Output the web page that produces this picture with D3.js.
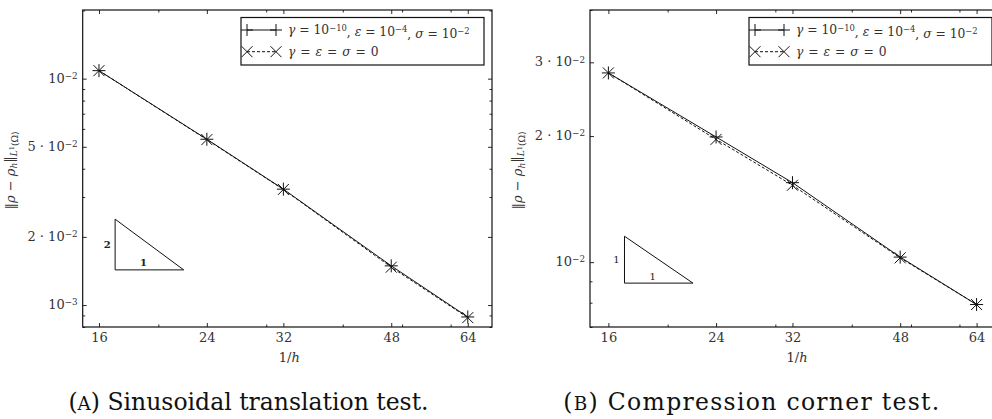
<!DOCTYPE html>
<html>
<head>
<meta charset="utf-8">
<script src="https://cdn.jsdelivr.net/npm/d3@7"></script>
<style>
  body { margin: 0; background: #fff; }
  svg { display: block; }
</style>
</head>
<body>
<div id="chart"></div>
<script>
// mesh sizes 1/h
var hValues = [16, 24, 32, 48, 64];

// (A) sinusoidal translation: L1 error
var sinRegularized = [1.085e-2, 5.40e-3, 3.25e-3, 1.49e-3, 8.86e-4];
var sinPlain       = [1.085e-2, 5.38e-3, 3.24e-3, 1.47e-3, 8.80e-4];

// (B) compression corner: L1 error
var cornerRegularized = [2.83e-2, 1.99e-2, 1.548e-2, 1.028e-2, 7.92e-3];
var cornerPlain       = [2.83e-2, 1.964e-2, 1.526e-2, 1.024e-2, 7.92e-3];

var xTickValues = [16, 24, 32, 48, 64];
var xMinorValues = [20, 30, 40, 50, 60];

// tick labels as printed in the figure: [prefix, base, exponent]
var sinYTicks = [1e-2, 5e-3, 2e-3, 1e-3];
var sinYLabels = [["", "10", "−2"], ["5 · ", "10", "−2"], ["2 · ", "10", "−2"], ["", "10", "−3"]];
var cornerYTicks = [3e-2, 2e-2, 1e-2];
var cornerYLabels = [["3 · ", "10", "−2"], ["2 · ", "10", "−2"], ["", "10", "−2"]];

var captions = [["(", "A", ") Sinusoidal translation test."], ["(", "B", ") Compression corner test."]];

var serif = "'DejaVu Serif', 'Liberation Serif', serif";
var W = 992, H = 419;
var svg = d3.select("#chart").append("svg").attr("width", W).attr("height", H)
  .style("font-family", serif);

var plusPath = function(r) { return "M" + (-r) + ",0H" + r + "M0," + (-r) + "V" + r; };
var crossPath = function(r) { return "M" + (-r) + "," + (-r) + "L" + r + "," + r + "M" + (-r) + "," + r + "L" + r + "," + (-r); };

var appendPower = function(textSel, prefix, base, exp) {
  textSel.append("tspan").text(prefix + base);
  textSel.append("tspan").attr("dy", "-0.45em").style("font-size", "0.68em").text(exp);
}

var drawPanel = function(cfg) {
  var g = svg.append("g");
  var x = d3.scaleLog().domain(cfg.xDomain).range([cfg.left, cfg.right]);
  var y = d3.scaleLog().domain(cfg.yDomain).range([cfg.bottom, cfg.top]);

  var clipId = "clip" + cfg.id;
  svg.append("clipPath").attr("id", clipId).append("rect")
    .attr("x", cfg.left).attr("y", cfg.top)
    .attr("width", cfg.right - cfg.left).attr("height", cfg.bottom - cfg.top);

  var yMinor = y.ticks().filter(function(v) {
    return cfg.yTicks.every(function(t) { return Math.abs(t - v) / t > 1e-6; });
  });

  // inward ticks on all four sides
  var axes = [
    [d3.axisBottom(x).tickValues(xTickValues).tickSize(-4).tickPadding(6).tickFormat(d3.format("d")), cfg.bottom, "x"],
    [d3.axisBottom(x).tickValues(xMinorValues).tickSize(-2.5).tickFormat(""), cfg.bottom, "x"],
    [d3.axisTop(x).tickValues(xTickValues).tickSize(-4).tickFormat(""), cfg.top, "x"],
    [d3.axisTop(x).tickValues(xMinorValues).tickSize(-2.5).tickFormat(""), cfg.top, "x"],
    [d3.axisLeft(y).tickValues(cfg.yTicks).tickSize(-4).tickFormat(""), cfg.left, "y"],
    [d3.axisLeft(y).tickValues(yMinor).tickSize(-2.5).tickFormat(""), cfg.left, "y"],
    [d3.axisRight(y).tickValues(cfg.yTicks).tickSize(-4).tickFormat(""), cfg.right, "y"],
    [d3.axisRight(y).tickValues(yMinor).tickSize(-2.5).tickFormat(""), cfg.right, "y"]
  ];
  axes.forEach(function(a) {
    var ag = g.append("g")
      .attr("transform", a[2] === "x" ? "translate(0," + a[1] + ")" : "translate(" + a[1] + ",0)")
      .call(a[0])
      .attr("font-family", null).attr("font-size", null);
    ag.select(".domain").remove();
    ag.selectAll("line").attr("stroke", "#111").attr("stroke-width", 0.9);
    ag.selectAll("text").style("font-size", "13px").attr("fill", "#333");
  });

  // y tick labels with exponents
  cfg.yTicks.forEach(function(t, i) {
    var lbl = cfg.yLabels[i];
    var txt = g.append("text")
      .attr("x", cfg.left - 5).attr("y", y(t)).attr("dy", "0.32em")
      .attr("text-anchor", "end").style("font-size", "13px").attr("fill", "#333");
    appendPower(txt, lbl[0], lbl[1], lbl[2]);
  });

  // frame
  g.append("rect")
    .attr("x", cfg.left).attr("y", cfg.top)
    .attr("width", cfg.right - cfg.left).attr("height", cfg.bottom - cfg.top)
    .attr("fill", "none").attr("stroke", "#111").attr("stroke-width", 1.2);

  // axis titles
  g.append("text")
    .attr("x", (cfg.left + cfg.right) / 2 + 2).attr("y", cfg.bottom + 35)
    .attr("text-anchor", "middle").style("font-size", "13px").attr("fill", "#333")
    .call(function(t) {
      t.append("tspan").text("1/");
      t.append("tspan").style("font-style", "italic").text("h");
    });

  var yt = g.append("text")
    .attr("transform", "translate(" + (cfg.left - 68) + "," + ((cfg.top + cfg.bottom) / 2 + 2) + ") rotate(-90)")
    .attr("text-anchor", "middle").style("font-size", "13px").attr("fill", "#333");
  yt.append("tspan").text("‖");
  yt.append("tspan").style("font-style", "italic").text("ρ");
  yt.append("tspan").text(" − ");
  yt.append("tspan").style("font-style", "italic").text("ρ");
  yt.append("tspan").attr("dy", "0.3em").style("font-size", "0.7em").style("font-style", "italic").text("h");
  yt.append("tspan").attr("dy", "-0.3em").text("‖");
  yt.append("tspan").attr("dy", "0.35em").style("font-size", "0.7em").style("font-style", "italic").text("L");
  yt.append("tspan").attr("dy", "-0.35em").style("font-size", "0.5em").text("1");
  yt.append("tspan").attr("dy", "0.35em").style("font-size", "0.7em").text("(Ω)");

  // slope triangle
  var tri = cfg.slope;
  var y1 = tri.y0 * Math.pow(tri.x1 / tri.x0, tri.order);
  g.append("path")
    .attr("d", "M" + x(tri.x0) + "," + y(y1) + "L" + x(tri.x0) + "," + y(tri.y0) +
               "L" + x(tri.x1) + "," + y(tri.y0) + "Z")
    .attr("fill", "none").attr("stroke", "#111").attr("stroke-width", 1);
  g.append("text")
    .attr("x", x(tri.x0) - 8).attr("y", (y(y1) + y(tri.y0)) / 2).attr("dy", "0.35em")
    .attr("text-anchor", "middle").style("font-size", "10px").style("font-weight", cfg.id === "a" ? "bold" : null)
    .attr("fill", "#222").text(tri.order);
  g.append("text")
    .attr("x", (x(tri.x0) + x(tri.x1)) / 2 - 6).attr("y", y(tri.y0) - 3.5)
    .attr("text-anchor", "middle").style("font-size", "10px").style("font-weight", cfg.id === "a" ? "bold" : null)
    .attr("fill", "#222").text("1");

  // series
  var plot = g.append("g").attr("clip-path", "url(#" + clipId + ")");
  var line = d3.line().x(function(d) { return x(d[0]); }).y(function(d) { return y(d[1]); });
  var regPts = d3.zip(hValues, cfg.regularized);
  var plainPts = d3.zip(hValues, cfg.plain);

  plot.append("path").datum(plainPts).attr("d", line)
    .attr("fill", "none").attr("stroke", "#111").attr("stroke-width", 1).attr("stroke-dasharray", "3,2");
  plot.append("path").datum(regPts).attr("d", line)
    .attr("fill", "none").attr("stroke", "#111").attr("stroke-width", 1);

  plot.selectAll(".mk-plain").data(plainPts).enter().append("path")
    .attr("transform", function(d) { return "translate(" + x(d[0]) + "," + y(d[1]) + ")"; })
    .attr("d", crossPath(5.5)).attr("stroke", "#111").attr("stroke-width", 1).attr("fill", "none");
  plot.selectAll(".mk-reg").data(regPts).enter().append("path")
    .attr("transform", function(d) { return "translate(" + x(d[0]) + "," + y(d[1]) + ")"; })
    .attr("d", plusPath(6.5)).attr("stroke", "#111").attr("stroke-width", 1).attr("fill", "none");

  // legend
  var lw = 243, lh = 47.5;
  var lx = cfg.right - 8 - lw, ly = cfg.top + 7.5;
  var leg = g.append("g").attr("transform", "translate(" + lx + "," + ly + ")");
  leg.append("rect").attr("width", lw).attr("height", lh)
    .attr("fill", "#fff").attr("stroke", "#111").attr("stroke-width", 1.2);
  var rows = [
    { y: 12.5, dash: null, marker: plusPath(6) },
    { y: 34.2, dash: "3,2", marker: crossPath(5.5) }
  ];
  rows.forEach(function(r) {
    leg.append("line").attr("x1", 6).attr("x2", 35).attr("y1", r.y).attr("y2", r.y)
      .attr("stroke", "#111").attr("stroke-width", 1).attr("stroke-dasharray", r.dash);
    [6, 35].forEach(function(px) {
      leg.append("path").attr("transform", "translate(" + px + "," + r.y + ")")
        .attr("d", r.marker).attr("stroke", "#111").attr("stroke-width", 1).attr("fill", "none");
    });
  });
  var t1 = leg.append("text").attr("x", 47).attr("y", rows[0].y).attr("dy", "0.35em")
    .style("font-size", "12.3px").attr("fill", "#333");
  t1.append("tspan").style("font-style", "italic").text("γ");
  appendPower(t1, " = ", "10", "−10");
  t1.append("tspan").attr("dy", "0.45em").text(", ");
  t1.append("tspan").style("font-style", "italic").text("ε");
  appendPower(t1, " = ", "10", "−4");
  t1.append("tspan").attr("dy", "0.45em").text(", ");
  t1.append("tspan").style("font-style", "italic").text("σ");
  appendPower(t1, " = ", "10", "−2");

  var t2 = leg.append("text").attr("x", 47).attr("y", rows[1].y).attr("dy", "0.35em")
    .style("font-size", "12.3px").style("word-spacing", "1px").attr("fill", "#333");
  t2.append("tspan").style("font-style", "italic").text("γ");
  t2.append("tspan").text(" = ");
  t2.append("tspan").style("font-style", "italic").text("ε");
  t2.append("tspan").text(" = ");
  t2.append("tspan").style("font-style", "italic").text("σ");
  t2.append("tspan").text(" = 0");

  // caption
  var cap = svg.append("text")
    .attr("x", cfg.captionX).attr("y", 410)
    .attr("text-anchor", "middle").style("font-size", "23.5px")
    .style("letter-spacing", cfg.captionSpacing).attr("fill", "#111");
  cap.append("tspan").text(cfg.caption[0]);
  cap.append("tspan").style("font-size", "0.78em").text(cfg.caption[1]);
  cap.append("tspan").text(cfg.caption[2]);
}

drawPanel({
  id: "a", left: 82.7, right: 492, top: 10, bottom: 327,
  xDomain: [15.05, 70.1], yDomain: [8.0e-4, 2.01e-2],
  yTicks: sinYTicks, yLabels: sinYLabels,
  regularized: sinRegularized, plain: sinPlain,
  slope: { x0: 17, x1: 22, y0: 1.43e-3, order: 2 },
  caption: captions[0], captionX: 248.5, captionSpacing: "0px"
});

drawPanel({
  id: "b", left: 590, right: 1000, top: 10, bottom: 327,
  xDomain: [14.93, 69.9], yDomain: [7.0e-3, 4.0e-2],
  yTicks: cornerYTicks, yLabels: cornerYLabels,
  regularized: cornerRegularized, plain: cornerPlain,
  slope: { x0: 17, x1: 22, y0: 8.91e-3, order: 1 },
  caption: captions[1], captionX: 752, captionSpacing: "1.3px"
});
</script>
</body>
</html>
